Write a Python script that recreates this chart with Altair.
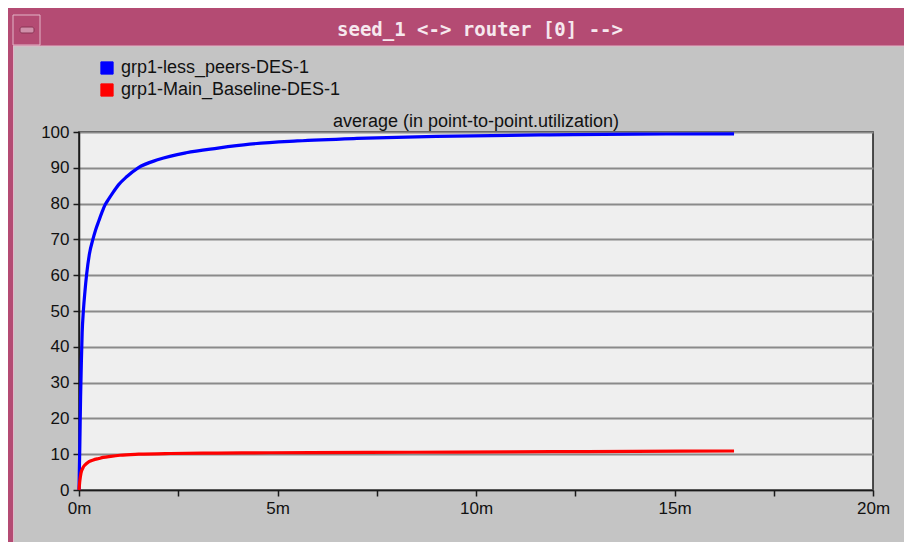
import altair as alt
import pandas as pd

# ---------------- data ----------------
series_names = ["grp1-less_peers-DES-1", "grp1-Main_Baseline-DES-1"]
series_colors = ["#0000ff", "#ff0000"]

# time in minutes, value in % utilization
blue_t = [0, 0.02, 0.04, 0.06, 0.08, 0.11, 0.15, 0.19, 0.26, 0.35, 0.42, 0.5, 0.58,
          0.65, 0.75, 0.85, 1.0, 1.2, 1.49, 2.0, 2.7, 3.5, 4.3, 5.5, 7.0, 9.0,
          11.86, 14.0, 16.5]
blue_v = [0, 12, 26, 36, 44, 50, 55.5, 60, 65.8, 70, 72.7, 75.2, 77.6,
          79.5, 81.3, 83, 85.3, 87.5, 90, 92.3, 94.2, 95.5, 96.6, 97.5, 98.2, 98.8,
          99.2, 99.4, 99.5]

red_t = [0, 0.02, 0.05, 0.1, 0.15, 0.25, 0.36, 0.5, 0.61, 0.8, 1.03, 1.5,
         2.3, 3.5, 4.8, 7.3, 9.5, 11.9, 14.0, 16.5]
red_v = [0, 2.5, 4.7, 6.2, 7.0, 7.9, 8.4, 8.8, 9.1, 9.4, 9.7, 10.0,
         10.2, 10.3, 10.4, 10.5, 10.6, 10.7, 10.8, 10.9]

x_ticks = [0, 2.5, 5, 7.5, 10, 12.5, 15, 17.5, 20]
y_ticks = [0, 10, 20, 30, 40, 50, 60, 70, 80, 90, 100]

window_title = "seed_1 <-> router [0] -->"
plot_title = "average (in point-to-point.utilization)"

df = pd.concat([
    pd.DataFrame({"t": blue_t, "v": blue_v, "series": series_names[0]}),
    pd.DataFrame({"t": red_t, "v": red_v, "series": series_names[1]}),
], ignore_index=True)

one = pd.DataFrame({"a": [0]})

W, H = 794, 358
FONT = "Liberation Sans"
MAROON = "#b44b73"
BODY = "#c4c4c4"

color_scale = alt.Scale(domain=series_names, range=series_colors)

x_enc = alt.X("t:Q", scale=alt.Scale(domain=[0, 20], nice=False),
              axis=alt.Axis(values=x_ticks, title=None, grid=False,
                            labelExpr="datum.value % 5 == 0 ? datum.value + 'm' : ''",
                            labelOverlap=False, labelFlush=False, labelPadding=4))
y_enc = alt.Y("v:Q", scale=alt.Scale(domain=[0, 100], nice=False),
              axis=alt.Axis(values=y_ticks, title=None, grid=True,
                            labelOverlap=False, labelFlush=False, labelPadding=4))

lines = alt.Chart(df).mark_line(strokeWidth=3.2, interpolate="monotone").encode(
    x=x_enc, y=y_enc,
    color=alt.Color("series:N", scale=color_scale, legend=None),
)

legend_layer = alt.Chart(df).mark_point(shape="square", filled=True, opacity=0,
                                        stroke="#000000", strokeWidth=1).encode(
    x=x_enc, y=y_enc,
    fill=alt.Fill("series:N", scale=color_scale,
                  legend=alt.Legend(orient="none", legendX=19, legendY=-73, title=None,
                                    symbolType="square", symbolSize=150,
                                    symbolStrokeColor="#000000", symbolStrokeWidth=1,
                                    symbolOpacity=1, labelLimit=0,
                                    labelFont=FONT, labelFontSize=18, labelColor="#111111",
                                    labelOffset=5, rowPadding=4)),
)

# window decorations (title bar, frame, button, title text)
title_bar = alt.Chart(one).mark_rect(color=MAROON).encode(
    x=alt.value(-71), x2=alt.value(830), y=alt.value(-124), y2=alt.value(-86))
left_strip = alt.Chart(one).mark_rect(color=MAROON).encode(
    x=alt.value(-71), x2=alt.value(-66), y=alt.value(-124), y2=alt.value(420))
sep_line = alt.Chart(one).mark_rule(color="#e2b6c8", strokeWidth=1).encode(
    x=alt.value(-66), x2=alt.value(830), y=alt.value(-86))
left_line = alt.Chart(one).mark_rule(color="#e2b6c8", strokeWidth=1).encode(
    x=alt.value(-65.5), y=alt.value(-86), y2=alt.value(420))
button = alt.Chart(one).mark_rect(color=MAROON, stroke="#e2b6c8", strokeWidth=1).encode(
    x=alt.value(-66), x2=alt.value(-39), y=alt.value(-117), y2=alt.value(-87))
button_in = alt.Chart(one).mark_rect(color="#cf8fa9", stroke="#8a3455", strokeWidth=1,
                                     cornerRadius=2).encode(
    x=alt.value(-59), x2=alt.value(-45), y=alt.value(-105), y2=alt.value(-99))
win_text = alt.Chart(one).mark_text(font="DejaVu Sans Mono", fontSize=19, fontWeight="bold",
                                    color="#f6e8ee", align="center", baseline="middle").encode(
    x=alt.value(401), y=alt.value(-102), text=alt.value(window_title))
sub_text = alt.Chart(one).mark_text(font=FONT, fontSize=18, color="#111111",
                                    align="center", baseline="alphabetic").encode(
    x=alt.value(W / 2), y=alt.value(-5), text=alt.value(plot_title))

chart = alt.layer(
    title_bar, left_strip, sep_line, left_line, button, button_in, win_text, sub_text,
    legend_layer, lines,
).properties(
    width=W, height=H,
    autosize=alt.AutoSizeParams(type="none"),
    padding={"left": 71, "top": 124, "right": 31, "bottom": 52},
    background=BODY,
).configure_view(
    fill="#efefef", stroke="#1a1a1a", strokeWidth=1.5,
).configure_axis(
    domainColor="#1a1a1a", domainWidth=1.5,
    tickColor="#1a1a1a", tickWidth=1.5, tickSize=6,
    labelFont=FONT, labelFontSize=17, labelColor="#111111",
    gridColor="#8a8a8a", gridWidth=2,
)

chart.save("out.html", embed_options={"renderer": "svg", "actions": False})
